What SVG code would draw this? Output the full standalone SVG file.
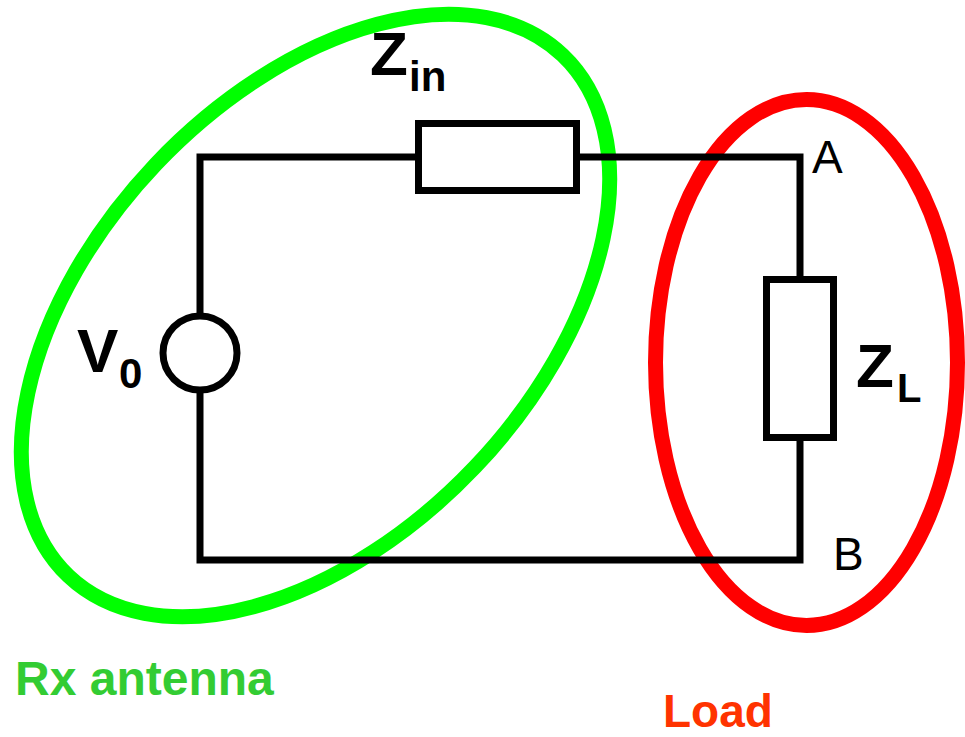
<svg xmlns="http://www.w3.org/2000/svg" width="965" height="737" viewBox="0 0 965 737">
<style>
.wire{fill:none;stroke:#000;stroke-width:7;stroke-linecap:square}
.comp{fill:#fff;stroke:#000;stroke-width:7}
.lbl{font-family:"Liberation Sans",Arial,sans-serif;font-weight:bold;fill:#000}
.term{font-family:"Liberation Sans",Arial,sans-serif;fill:#000;font-size:46px}
.ring{fill:none;stroke-width:15}
</style>
<rect width="965" height="737" fill="#fff"/>
<g id="rx-antenna-group">
<ellipse class="ring" stroke="#00ff00" cx="315.5" cy="315.5" rx="359" ry="220" transform="rotate(-46.5 315.5 315.5)"/>
<text x="15" y="695" font-family="Liberation Sans,Arial,sans-serif" font-weight="bold" font-size="48" fill="#33cc33">Rx antenna</text>
</g>
<g id="load-group">
<ellipse class="ring" stroke="#ff0000" cx="806.5" cy="362.5" rx="151" ry="263"/>
<text x="663" y="727" font-family="Liberation Sans,Arial,sans-serif" font-weight="bold" font-size="46" fill="#ff3300">Load</text>
</g>
<g id="connectors">
<path class="wire" d="M200,316 V157 H418.5"/>
<path class="wire" d="M576.5,157 H800 V279.5"/>
<path class="wire" d="M800,437.5 V560 H200 V390"/>
</g>
<g id="V0">
<circle class="comp" cx="200" cy="353" r="37"/>
<text class="lbl" x="77" y="372" font-size="62">V</text>
<text class="lbl" x="119" y="388" font-size="42">0</text>
</g>
<g id="Zin">
<rect class="comp" x="418.5" y="123.5" width="158" height="67"/>
<text class="lbl" x="370" y="75" font-size="62">Z</text>
<text class="lbl" x="409" y="91" font-size="42">in</text>
</g>
<g id="ZL">
<rect class="comp" x="766.5" y="279.5" width="67" height="158"/>
<text class="lbl" x="856" y="387" font-size="62">Z</text>
<text class="lbl" x="897" y="402" font-size="40">L</text>
</g>
<g id="A"><text class="term" x="812" y="173">A</text></g>
<g id="B"><text class="term" x="833" y="570">B</text></g>
</svg>
